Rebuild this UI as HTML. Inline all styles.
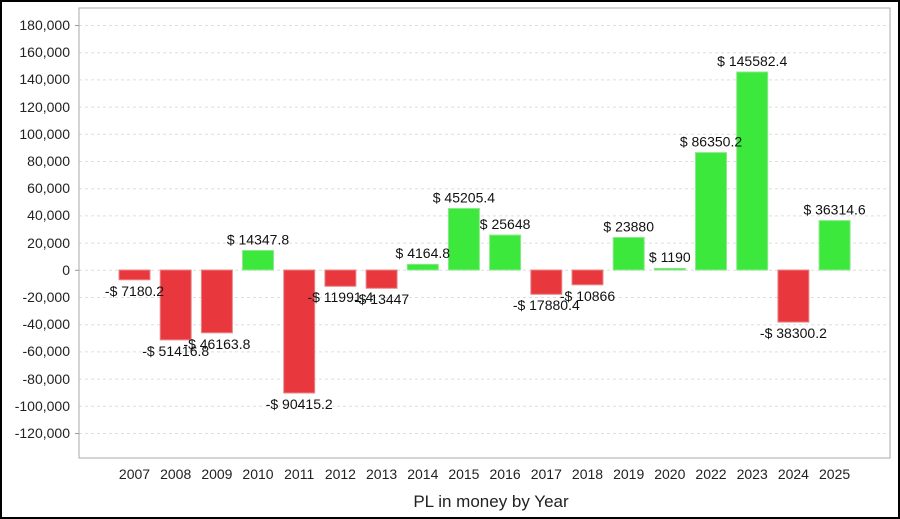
<!DOCTYPE html>
<html><head><style>
body{margin:0;background:#fff}
svg{display:block;font-family:"Liberation Sans",Arial,sans-serif}
</style></head><body>
<svg width="900" height="519" viewBox="0 0 900 519">
<rect x="1" y="1" width="898" height="517" fill="#fff" stroke="#000" stroke-width="2"/>
<g stroke="#ddd" stroke-dasharray="3,3" stroke-width="1">
<line x1="79" x2="890" y1="25.5" y2="25.5"/><line x1="79" x2="890" y1="52.7" y2="52.7"/><line x1="79" x2="890" y1="79.9" y2="79.9"/><line x1="79" x2="890" y1="107.1" y2="107.1"/><line x1="79" x2="890" y1="134.3" y2="134.3"/><line x1="79" x2="890" y1="161.5" y2="161.5"/><line x1="79" x2="890" y1="188.7" y2="188.7"/><line x1="79" x2="890" y1="215.9" y2="215.9"/><line x1="79" x2="890" y1="243.1" y2="243.1"/><line x1="79" x2="890" y1="270.3" y2="270.3"/><line x1="79" x2="890" y1="297.5" y2="297.5"/><line x1="79" x2="890" y1="324.7" y2="324.7"/><line x1="79" x2="890" y1="351.9" y2="351.9"/><line x1="79" x2="890" y1="379.1" y2="379.1"/><line x1="79" x2="890" y1="406.3" y2="406.3"/><line x1="79" x2="890" y1="433.5" y2="433.5"/>
</g>
<rect x="79" y="8" width="811" height="450" fill="none" stroke="#aaa"/>
<g font-size="14" fill="#222" text-anchor="end">
<text x="70" y="30">180,000</text><text x="70" y="57">160,000</text><text x="70" y="84">140,000</text><text x="70" y="112">120,000</text><text x="70" y="139">100,000</text><text x="70" y="166">80,000</text><text x="70" y="193">60,000</text><text x="70" y="220">40,000</text><text x="70" y="248">20,000</text><text x="70" y="275">0</text><text x="70" y="302">-20,000</text><text x="70" y="329">-40,000</text><text x="70" y="356">-60,000</text><text x="70" y="384">-80,000</text><text x="70" y="411">-100,000</text><text x="70" y="438">-120,000</text>
</g>
<g stroke="#999"><line x1="75" x2="79" y1="25.5" y2="25.5"/><line x1="75" x2="79" y1="270.3" y2="270.3"/><line x1="75" x2="79" y1="433.5" y2="433.5"/></g>
<g stroke="#e8888a" stroke-width="1">
<rect x="119" y="270" width="31" height="9.8" fill="#e8383d"/>
<rect x="160.2" y="270" width="31" height="69.9" fill="#e8383d"/>
<rect x="201.4" y="270" width="31" height="62.8" fill="#e8383d"/>
<rect x="283.7" y="270" width="31" height="123" fill="#e8383d"/>
<rect x="324.9" y="270" width="31" height="16.3" fill="#e8383d"/>
<rect x="366.1" y="270" width="31" height="18.3" fill="#e8383d"/>
<rect x="530.8" y="270" width="31" height="24.3" fill="#e8383d"/>
<rect x="572" y="270" width="31" height="14.8" fill="#e8383d"/>
<rect x="777.9" y="270" width="31" height="52.1" fill="#e8383d"/>
</g>
<g stroke="#8be88b" stroke-width="1" fill="#3de83d">
<rect x="242.5" y="250.5" width="31" height="19.5"/>
<rect x="407.3" y="264.3" width="31" height="5.7"/>
<rect x="448.4" y="208.5" width="31" height="61.5"/>
<rect x="489.6" y="235.1" width="31" height="34.9"/>
<rect x="613.2" y="237.5" width="31" height="32.5"/>
<rect x="654.3" y="268.4" width="31" height="1.6"/>
<rect x="695.5" y="152.6" width="31" height="117.4"/>
<rect x="736.7" y="72" width="31" height="198"/>
<rect x="819.1" y="220.6" width="31" height="49.4"/>
</g>
<g font-size="14" fill="#111" text-anchor="middle">
<text x="134.5" y="296">-$ 7180.2</text>
<text x="175.7" y="356">-$ 51416.8</text>
<text x="216.9" y="349">-$ 46163.8</text>
<text x="258" y="244.5">$ 14347.8</text>
<text x="299.2" y="409">-$ 90415.2</text>
<text x="340.4" y="302">-$ 11991.4</text>
<text x="381.6" y="304">-$ 13447</text>
<text x="422.8" y="258">$ 4164.8</text>
<text x="463.9" y="202.5">$ 45205.4</text>
<text x="505.1" y="229">$ 25648</text>
<text x="546.3" y="310">-$ 17880.4</text>
<text x="587.5" y="301">-$ 10866</text>
<text x="628.7" y="231.5">$ 23880</text>
<text x="669.8" y="262">$ 1190</text>
<text x="711" y="146.5">$ 86350.2</text>
<text x="752.2" y="66">$ 145582.4</text>
<text x="793.4" y="338">-$ 38300.2</text>
<text x="834.6" y="214.5">$ 36314.6</text>
</g>
<g font-size="14" fill="#222" text-anchor="middle">
<text x="134.5" y="479">2007</text><text x="175.7" y="479">2008</text><text x="216.9" y="479">2009</text><text x="258" y="479">2010</text><text x="299.2" y="479">2011</text><text x="340.4" y="479">2012</text><text x="381.6" y="479">2013</text><text x="422.8" y="479">2014</text><text x="463.9" y="479">2015</text><text x="505.1" y="479">2016</text><text x="546.3" y="479">2017</text><text x="587.5" y="479">2018</text><text x="628.7" y="479">2019</text><text x="669.8" y="479">2020</text><text x="711" y="479">2022</text><text x="752.2" y="479">2023</text><text x="793.4" y="479">2024</text><text x="834.6" y="479">2025</text>
</g>
<text x="491" y="507" font-size="17" fill="#222" text-anchor="middle">PL in money by Year</text>
</svg>
</body></html>
